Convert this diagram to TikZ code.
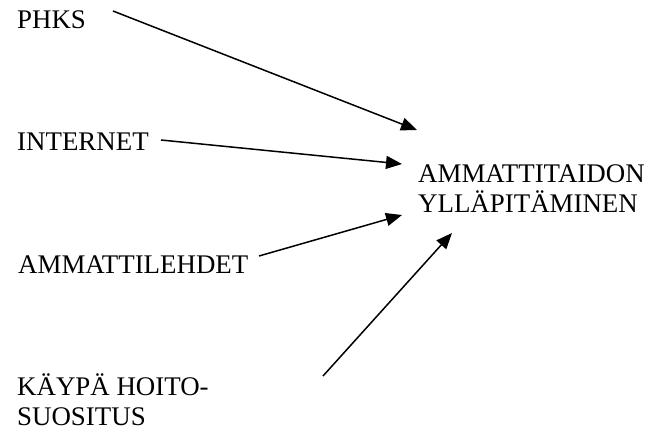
\documentclass[tikz,border=0pt]{standalone}
\usepackage{fontspec}
\setmainfont{Liberation Serif}
\usetikzlibrary{arrows.meta}

\begin{document}
\begin{tikzpicture}[x=1pt, y=-1pt,
  label/.style={anchor=base west, inner sep=0pt, align=left,
    font=\fontsize{26.9}{29.5}\selectfont},
  feed/.style={line width=1.5pt, -{Triangle[length=16pt, width=13pt]}}]
  % page frame
  \useasboundingbox (0,0) rectangle (646,432);

  % sources on the left and the goal on the right
  % (a two-line node sits on the baseline of its last line)
  \node[label] (phks)  at (17,28)  {PHKS};
  \node[label] (inet)  at (17,150) {INTERNET};
  \node[label] (lehti) at (18,273) {AMMATTILEHDET};
  \node[label] (kaypa) at (17,425) {KÄYPÄ HOITO-\\SUOSITUS};
  \node[label] (goal)  at (418,212) {AMMATTITAIDON\\YLLÄPITÄMINEN};

  % connector ends
  \coordinate (phks-o)  at (113,11);
  \coordinate (phks-i)  at (417,130);
  \coordinate (inet-o)  at (161,140);
  \coordinate (inet-i)  at (402,164);
  \coordinate (lehti-o) at (259,256);
  \coordinate (lehti-i) at (402,215);
  \coordinate (kaypa-o) at (323,376);
  \coordinate (kaypa-i) at (452,233);

  \draw[feed] (phks-o)  -- (phks-i);
  \draw[feed] (inet-o)  -- (inet-i);
  \draw[feed] (lehti-o) -- (lehti-i);
  \draw[feed] (kaypa-o) -- (kaypa-i);
\end{tikzpicture}
\end{document}
